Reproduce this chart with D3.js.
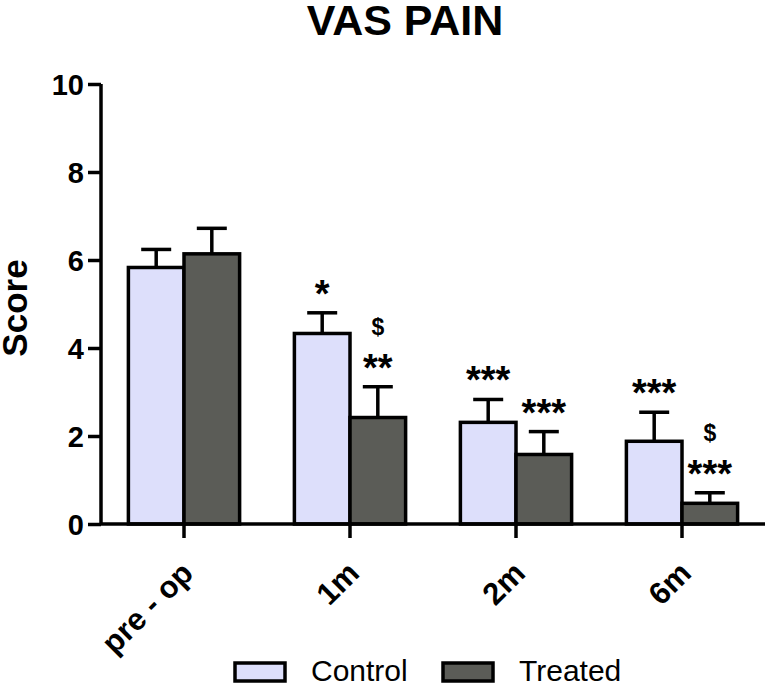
<!DOCTYPE html>
<html>
<head>
<meta charset="utf-8">
<script src="https://cdn.jsdelivr.net/npm/d3@7"></script>
<style>
  html, body { margin: 0; padding: 0; background: #fff; }
  svg { display: block; font-family: "Liberation Sans", Arial, sans-serif; }
</style>
</head>
<body>
<svg id="chart" width="767" height="684"></svg>
<script>
// ---- data ----
const categories = ["pre - op", "1m", "2m", "6m"];
const seriesNames = ["Control", "Treated"];
const controlMeans = [5.83, 4.33, 2.31, 1.88];
const controlErr = [0.41, 0.47, 0.52, 0.66];
const treatedMeans = [6.14, 2.42, 1.58, 0.47];
const treatedErr = [0.58, 0.70, 0.52, 0.24];
const controlStars = ["", "*", "***", "***"];
const treatedStars = ["", "**", "***", "***"];
const treatedDollar = ["", "$", "", "$"];
const yTicks = [0, 2, 4, 6, 8, 10];
const colors = { Control: "#dddffb", Treated: "#5b5c57" };

const series = [
  { name: "Control", means: controlMeans, err: controlErr, stars: controlStars, dollar: ["", "", "", ""] },
  { name: "Treated", means: treatedMeans, err: treatedErr, stars: treatedStars, dollar: treatedDollar }
];

const svg = d3.select("#chart");
const plot = { left: 101, right: 765, top: 84, bottom: 524 };

const x = d3.scaleBand().domain(categories).range([plot.left, plot.right])
  .paddingInner(0.33).paddingOuter(0.165);
const xs = d3.scaleBand().domain(seriesNames).range([0, x.bandwidth()]).padding(0);
const y = d3.scaleLinear().domain([0, 10]).range([plot.bottom, plot.top]);

// title
svg.append("text").attr("x", 405).attr("y", 35).attr("text-anchor", "middle")
  .attr("font-size", 43).attr("font-weight", "bold").text("VAS PAIN");

// y label
svg.append("text").attr("transform", "translate(27,308) rotate(-90)")
  .attr("text-anchor", "middle").attr("font-size", 35).attr("font-weight", "bold").text("Score");

// bars
const rows = [];
series.forEach(s => categories.forEach((c, i) => rows.push({
  cat: c, name: s.name, v: s.means[i], e: s.err[i], stars: s.stars[i], dollar: s.dollar[i]
})));

const g = svg.append("g");
const bx = d => x(d.cat) + xs(d.name);
const bw = xs.bandwidth();

// error bars (drawn before bars so bar outline covers the base)
g.selectAll("line.err").data(rows).join("line").attr("class", "err")
  .attr("x1", d => bx(d) + bw / 2).attr("x2", d => bx(d) + bw / 2)
  .attr("y1", d => y(d.v)).attr("y2", d => y(d.v + d.e))
  .attr("stroke", "#000").attr("stroke-width", 3.5);
g.selectAll("line.cap").data(rows).join("line").attr("class", "cap")
  .attr("x1", d => bx(d) + bw / 2 - 15).attr("x2", d => bx(d) + bw / 2 + 15)
  .attr("y1", d => y(d.v + d.e)).attr("y2", d => y(d.v + d.e))
  .attr("stroke", "#000").attr("stroke-width", 3.5);

g.selectAll("rect.bar").data(rows).join("rect").attr("class", "bar")
  .attr("x", bx).attr("width", bw)
  .attr("y", d => y(d.v)).attr("height", d => y(0) - y(d.v))
  .attr("fill", d => colors[d.name]).attr("stroke", "#000").attr("stroke-width", 3.5);

// significance marks
g.selectAll("text.star").data(rows.filter(d => d.stars)).join("text").attr("class", "star")
  .attr("x", d => bx(d) + bw / 2).attr("y", d => y(d.v + d.e) - 27 + 21)
  .attr("text-anchor", "middle").attr("font-size", 38).attr("font-weight", "bold")
  .text(d => d.stars);
g.selectAll("text.dollar").data(rows.filter(d => d.dollar)).join("text").attr("class", "dollar")
  .attr("x", d => bx(d) + bw / 2).attr("y", d => y(d.v + d.e) - 27 - 33 + 8)
  .attr("text-anchor", "middle").attr("font-size", 23).attr("font-weight", "bold")
  .text(d => d.dollar);

// y axis
const yAxis = svg.append("g").attr("transform", `translate(${plot.left},0)`)
  .call(d3.axisLeft(y).tickValues(yTicks).tickSize(13).tickPadding(4).tickFormat(d3.format("d")));
yAxis.select(".domain").attr("d", `M0,${plot.top}V${plot.bottom}`).attr("stroke-width", 3.5);
yAxis.selectAll(".tick line").attr("stroke-width", 3.5);
yAxis.selectAll(".tick text").attr("font-size", 29).attr("font-weight", "bold")
  .attr("font-family", "Liberation Sans, Arial, sans-serif").attr("fill", "#000").attr("dy", "0.35em");

// x axis
const xAxis = svg.append("g").attr("transform", `translate(0,${plot.bottom})`)
  .call(d3.axisBottom(x).tickSize(14).tickFormat(""));
xAxis.select(".domain").attr("d", `M${plot.left},0H${plot.right}`).attr("stroke-width", 3.5);
xAxis.selectAll(".tick line").attr("stroke-width", 3.5);

svg.append("g").selectAll("text").data(categories).join("text")
  .attr("transform", d => `translate(${x(d) + x.bandwidth() / 2 + 11},${plot.bottom + 51}) rotate(-45)`)
  .attr("text-anchor", "end").attr("font-size", 31).attr("font-weight", "bold").text(d => d);

// legend
const legendX = [235, 443];
const leg = svg.append("g").selectAll("g").data(seriesNames).join("g")
  .attr("transform", (d, i) => `translate(${legendX[i]},663)`);
leg.append("rect").attr("width", 50).attr("height", 18)
  .attr("fill", d => colors[d]).attr("stroke", "#000").attr("stroke-width", 3.5);
leg.append("text").attr("x", 76).attr("y", 18).attr("font-size", 30).text(d => d);
</script>
</body>
</html>
